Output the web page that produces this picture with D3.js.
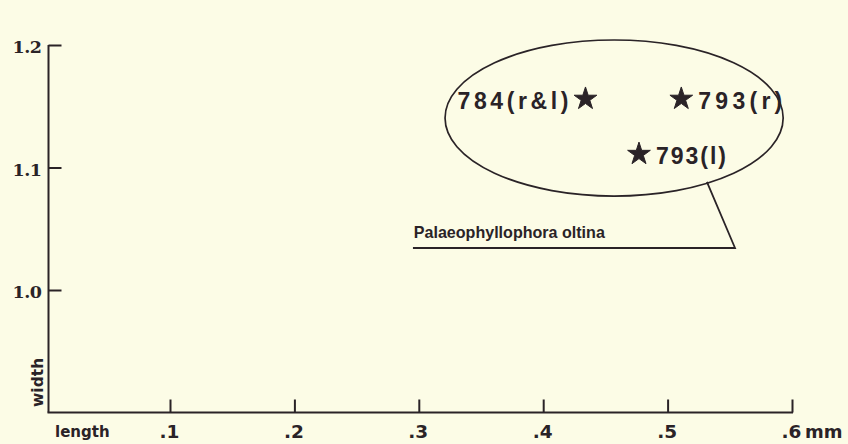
<!DOCTYPE html>
<html>
<head>
<meta charset="utf-8">
<script src="https://cdn.jsdelivr.net/npm/d3@7/dist/d3.min.js"></script>
<style>
  html, body { margin: 0; padding: 0; background: #fcfce6; }
  svg { display: block; }
</style>
</head>
<body>
<svg id="chart" width="848" height="444"></svg>
<script>
// Specimen measurements (mm): length on x, width on y
const specimens = ["784(r&l)", "793(r)", "793(l)"];
const lengths   = [0.434, 0.511, 0.477];
const widths    = [1.156, 1.156, 1.111];
const labelSide = ["left", "right", "right"];

// Axis ticks
const xTicks = [0.1, 0.2, 0.3, 0.4, 0.5, 0.6];
const xTickLabels = [".1", ".2", ".3", ".4", ".5", ".6"];
const yTicks = [1.0, 1.1, 1.2];
const yTickLabels = ["1.0", "1.1", "1.2"];

const groupName = "Palaeophyllophora oltina";

const ink = "#2a2327";
const svg = d3.select("#chart");

const x = d3.scaleLinear().domain([0, 0.6]).range([45.6, 792]);
const y = d3.scaleLinear().domain([0.9, 1.2]).range([412.5, 45]);

const axisX = 48.5;             // vertical axis position
const axisY = y(0.9);           // horizontal axis position

// Axis lines
svg.append("line")
  .attr("x1", axisX).attr("x2", axisX)
  .attr("y1", y(1.2)).attr("y2", axisY)
  .attr("stroke", ink).attr("stroke-width", 2);
svg.append("line")
  .attr("x1", axisX - 1).attr("x2", x(0.6) + 1)
  .attr("y1", axisY).attr("y2", axisY)
  .attr("stroke", ink).attr("stroke-width", 2);

// Y axis: inward ticks, serif labels
const gy = svg.append("g")
  .attr("transform", `translate(${axisX},0)`)
  .call(d3.axisLeft(y)
    .tickValues(yTicks)
    .tickSize(-13)
    .tickSizeOuter(0)
    .tickPadding(7)
    .tickFormat((d, i) => yTickLabels[i]));
gy.select(".domain").remove();
gy.selectAll(".tick line").attr("stroke", ink).attr("stroke-width", 2);
gy.selectAll(".tick text")
  .attr("fill", ink)
  .attr("dy", "0.45em")
  .style("font-family", "'DejaVu Serif', serif")
  .style("font-weight", "bold")
  .style("font-size", "17.5px")
  .style("letter-spacing", "-0.5px");

// X axis: upward ticks, labels below
const gx = svg.append("g")
  .attr("transform", `translate(0,${axisY})`)
  .call(d3.axisBottom(x)
    .tickValues(xTicks)
    .tickSize(-13)
    .tickSizeOuter(0)
    .tickPadding(12)
    .tickFormat((d, i) => xTickLabels[i]));
gx.select(".domain").remove();
gx.selectAll(".tick line").attr("stroke", ink).attr("stroke-width", 2);
gx.selectAll(".tick text")
  .attr("fill", ink)
  .attr("x", -1)
  .style("font-family", "'DejaVu Sans', sans-serif")
  .style("font-weight", "bold")
  .style("font-size", "18.5px");

// unit after the last tick
svg.append("text")
  .attr("x", x(0.6) + 13)
  .attr("y", axisY + 25)
  .attr("fill", ink)
  .style("font-family", "'DejaVu Sans', sans-serif")
  .style("font-weight", "bold")
  .style("font-size", "18px")
  .text("mm");

// Axis titles
svg.append("text")
  .attr("x", 55)
  .attr("y", 437)
  .attr("fill", ink)
  .style("font-family", "'DejaVu Sans', sans-serif")
  .style("font-weight", "bold")
  .style("font-size", "15px")
  .text("length");

svg.append("text")
  .attr("transform", "translate(43,407) rotate(-90)")
  .attr("fill", ink)
  .style("font-family", "'DejaVu Sans', sans-serif")
  .style("font-weight", "bold")
  .style("font-size", "15.5px")
  .text("width");

// Group outline around the specimens (data units)
const ell = { cx: 0.457, cy: 1.1404, rx: 0.1359, ry: 0.0637 };
svg.append("ellipse")
  .attr("cx", x(ell.cx))
  .attr("cy", y(ell.cy))
  .attr("rx", x(ell.cx + ell.rx) - x(ell.cx))
  .attr("ry", y(ell.cy - ell.ry) - y(ell.cy))
  .attr("fill", "none")
  .attr("stroke", ink)
  .attr("stroke-width", 1.7);

// Callout leader from the outline to the group name
const leader = [[0.5316, 1.0882], [0.5542, 1.0343], [0.2953, 1.0343]];
svg.append("path")
  .attr("d", d3.line().x(d => x(d[0])).y(d => y(d[1]))(leader))
  .attr("fill", "none")
  .attr("stroke", ink)
  .attr("stroke-width", 1.8);

svg.append("text")
  .attr("x", x(0.296))
  .attr("y", y(1.0424))
  .attr("textLength", 191)
  .attr("lengthAdjust", "spacingAndGlyphs")
  .attr("fill", ink)
  .style("font-family", "'Liberation Sans', Arial, sans-serif")
  .style("font-weight", "bold")
  .style("font-size", "17px")
  .text(groupName);

// Specimen stars
const star = d3.symbol().type(d3.symbolStar).size(160);
const pts = specimens.map((s, i) => ({ name: s, lx: lengths[i], wy: widths[i], side: labelSide[i] }));

svg.append("g").selectAll("path")
  .data(pts)
  .join("path")
  .attr("transform", d => `translate(${x(d.lx)},${y(d.wy)})`)
  .attr("d", star)
  .attr("fill", ink)
  .attr("stroke", ink)
  .attr("stroke-width", 1)
  .attr("stroke-linejoin", "round");

const labelWidths = { "784(r&l)": 111, "793(r)": 84, "793(l)": 70 };
svg.append("g").selectAll("text")
  .data(pts)
  .join("text")
  .attr("x", d => x(d.lx) + (d.side === "left" ? -17 : 17))
  .attr("y", d => y(d.wy) + 10)
  .attr("text-anchor", d => d.side === "left" ? "end" : "start")
  .attr("textLength", d => labelWidths[d.name])
  .attr("lengthAdjust", "spacing")
  .attr("fill", ink)
  .style("font-family", "'Liberation Sans Narrow', 'Liberation Sans', Arial, sans-serif")
  .style("font-weight", "bold")
  .style("font-size", "23px")
  .text(d => d.name);
</script>
</body>
</html>
